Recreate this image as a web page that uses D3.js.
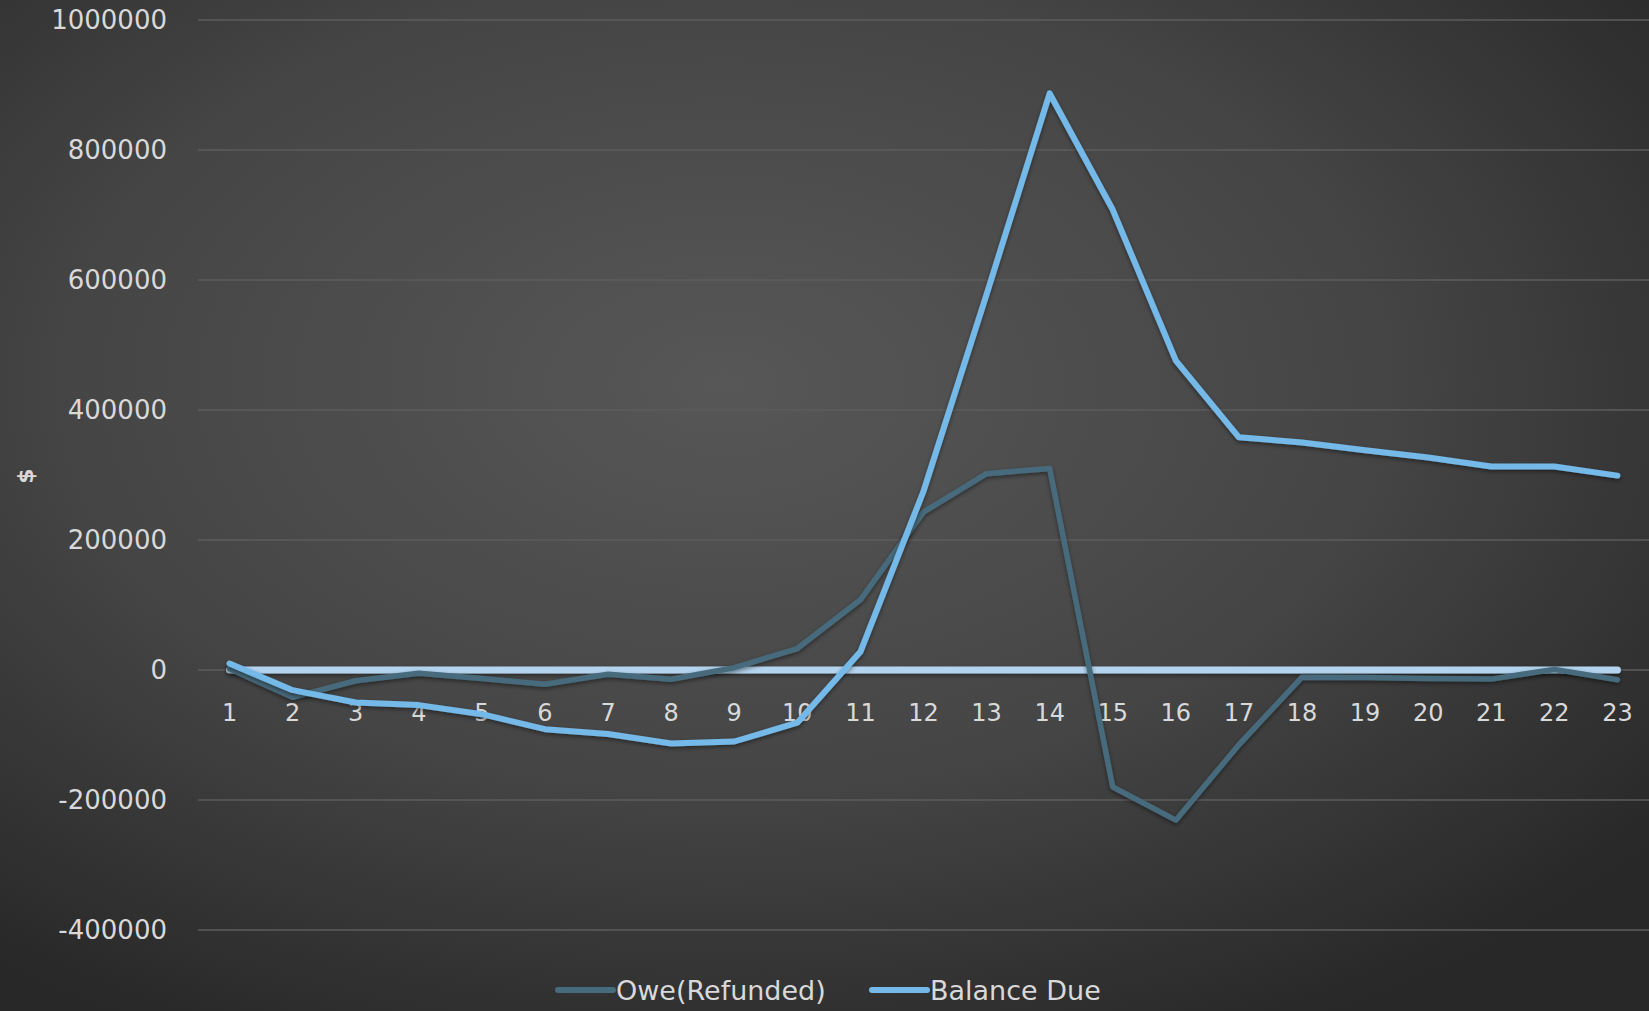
<!DOCTYPE html>
<html>
<head>
<meta charset="utf-8">
<script src="https://cdn.jsdelivr.net/npm/d3@7"></script>
<style>
  body { margin: 0; background: #2b2b2b; overflow: hidden; }
  text { font-family: "DejaVu Sans", "Noto Sans", sans-serif; fill: #d9d9d9; }
</style>
</head>
<body>
<div id="chart"></div>
<script>
const W = 1649, H = 1011;
const margin = { top: 20, right: 0, bottom: 81, left: 198 };

// data
const periods = d3.range(1, 24).map(String);
const oweRefunded = [2000, -42000, -16500, -5000, -13000, -22000, -6600, -14300, 3500, 33000,
  108000, 243000, 302000, 310000, -180000, -231000, -115000, -11000, -11500, -13000, -14000, 1000, -15000];
const balanceDue = [10000, -31000, -50000, -54000, -68000, -91000, -98500, -113000, -110000, -81000,
  28000, 275000, 578000, 887000, 708000, 476000, 358000, 350000, 338000, 327000, 313000, 313000, 299000];
const baseline = periods.map(function () { return 0; });
const yTicks = [-400000, -200000, 0, 200000, 400000, 600000, 800000, 1000000];

const svg = d3.select("#chart").append("svg")
  .attr("width", W)
  .attr("height", H);

const defs = svg.append("defs");
const bg = defs.append("radialGradient")
  .attr("id", "bg")
  .attr("cx", "44%").attr("cy", "38%").attr("r", "72%");
bg.append("stop").attr("offset", "0%").attr("stop-color", "#575757");
bg.append("stop").attr("offset", "55%").attr("stop-color", "#454545");
bg.append("stop").attr("offset", "100%").attr("stop-color", "#282828");

// user space region so the flat zero line still gets its shadow
const shadow = defs.append("filter").attr("id", "shadow")
  .attr("filterUnits", "userSpaceOnUse")
  .attr("x", 0).attr("y", 0).attr("width", W).attr("height", H);
shadow.append("feDropShadow")
  .attr("dx", 0).attr("dy", 2).attr("stdDeviation", 2)
  .attr("flood-color", "#000").attr("flood-opacity", 0.45);

svg.append("rect").attr("width", W).attr("height", H).attr("fill", "url(#bg)");

let x = d3.scaleBand()
  .domain(periods)
  .range([margin.left, W - margin.right]);

let y = d3.scaleLinear()
  .domain([-400000, 1000000])
  .range([H - margin.bottom, margin.top]);

const cx = function (d) { return x(d) + x.bandwidth() / 2; };

// gridlines
svg.append("g").selectAll("line")
  .data(yTicks)
  .enter()
  .append("line")
  .attr("x1", margin.left)
  .attr("x2", W - margin.right)
  .attr("y1", function (d) { return y(d); })
  .attr("y2", function (d) { return y(d); })
  .attr("stroke", "#5c5c5c")
  .attr("stroke-width", 1.5);

// y axis labels
svg.append("g").selectAll("text")
  .data(yTicks)
  .enter()
  .append("text")
  .attr("x", 167)
  .attr("y", function (d) { return y(d); })
  .attr("dy", "0.36em")
  .style("text-anchor", "end")
  .style("font-size", "26px")
  .text(function (d) { return String(d); });

// y axis title
svg.append("text")
  .attr("transform", "translate(25, 476) rotate(-90)")
  .attr("dy", "0.36em")
  .style("text-anchor", "middle")
  .style("font-size", "22px")
  .style("font-weight", "bold")
  .text("$");

// x axis labels
svg.append("g").selectAll("text")
  .data(periods)
  .enter()
  .append("text")
  .attr("x", function (d) { return cx(d); })
  .attr("y", 721)
  .style("text-anchor", "middle")
  .style("font-size", "24px")
  .text(function (d) { return d; });

const line = d3.line()
  .x(function (d) { return cx(d.p); })
  .y(function (d) { return y(d.v); });

const series = [
  { name: "zero", values: baseline, color: "#b4d3ee", width: 7 },
  { name: "Owe(Refunded)", values: oweRefunded, color: "#466b7c", width: 5.5 },
  { name: "Balance Due", values: balanceDue, color: "#74b9e9", width: 6 }
];

svg.append("g").selectAll("path")
  .data(series)
  .enter()
  .append("path")
  .attr("d", function (s) {
    return line(s.values.map(function (v, i) { return { p: periods[i], v: v }; }));
  })
  .attr("fill", "none")
  .attr("stroke", function (s) { return s.color; })
  .attr("stroke-width", function (s) { return s.width; })
  .attr("stroke-linejoin", "round")
  .attr("stroke-linecap", "round")
  .attr("filter", "url(#shadow)");

// legend
const legendItems = [
  { name: "Owe(Refunded)", color: "#466b7c", x: 556 },
  { name: "Balance Due", color: "#74b9e9", x: 870 }
];
let legend = svg.append("g").selectAll("g")
  .data(legendItems)
  .enter()
  .append("g")
  .attr("transform", function (d) { return "translate(" + d.x + ", 990)"; });

legend.append("line")
  .attr("x1", 2).attr("x2", 57)
  .attr("stroke", function (d) { return d.color; })
  .attr("stroke-width", 6)
  .attr("stroke-linecap", "round");

legend.append("text")
  .attr("x", 60)
  .attr("dy", "0.36em")
  .style("font-size", "27px")
  .text(function (d) { return d.name; });
</script>
</body>
</html>
